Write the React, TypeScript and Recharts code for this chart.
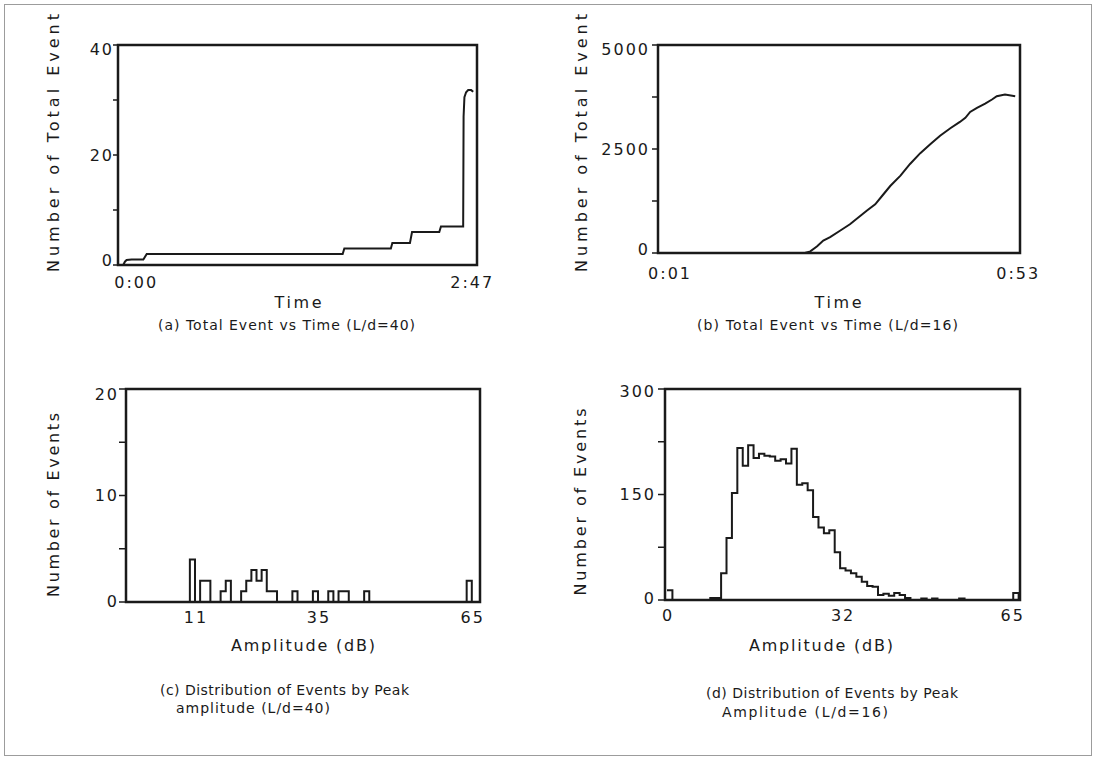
import { LineChart, Line, XAxis, YAxis, ReferenceArea } from 'recharts';

const FONT = '"DejaVu Sans", Verdana, sans-serif';
const INK = '#1a1a1a';
const LS = 2;

// (a) Total event vs time, L/d=40 (time in seconds)
const timeA = [0, 0.8, 1.6, 4, 9.6, 11.2, 104.7, 105.5, 127.7, 128.4, 136.8, 137.8, 150.8, 151.6, 162.2, 162.4, 162.8, 163.6, 164.6, 166, 167];
const totalA = [0, 0.6, 0.9, 1, 1, 2, 2, 3, 3, 4, 4, 6, 6, 7, 7, 27, 30.5, 31.4, 31.8, 31.8, 31.5];
const xTicksA = [0, 167];
const xLabelsA = ['0:00', '2:47'];
const yTicksA = [0, 10, 20, 30, 40];
const yLabelsA = ['0', '', '20', '', '40'];

// (b) Total event vs time, L/d=16
const timeB = [1, 22.2, 23.0, 24.0, 24.9, 25.9, 27.4, 28.8, 30.3, 31.3, 32.5, 33.5, 34.7, 36.2, 37.6, 39.1, 40.6, 42.0, 43.5, 44.9, 45.7, 46.4, 47.4, 48.6, 49.6, 50.3, 51.5, 53];
const totalB = [0, 0, 40, 160, 300, 380, 540, 690, 890, 1020, 1170, 1370, 1610, 1860, 2140, 2400, 2620, 2820, 3000, 3150, 3250, 3390, 3490, 3590, 3690, 3770, 3810, 3770];
const xTicksB = [1, 53];
const xLabelsB = ['0:01', '0:53'];
const yTicksB = [0, 1250, 2500, 3750, 5000];
const yLabelsB = ['0', '', '2500', '', '5000'];

// (c) events per 1 dB amplitude bin, L/d=40 (bins 0..65)
const countsC = [
  0, 0, 0, 0, 0, 0, 0, 0, 0, 0,
  4, 0, 2, 2, 0, 0, 1, 2, 0, 0,
  1, 2, 3, 2, 3, 1, 1, 0, 0, 0,
  1, 0, 0, 0, 1, 0, 0, 1, 0, 1,
  1, 0, 0, 0, 1, 0, 0, 0, 0, 0,
  0, 0, 0, 0, 0, 0, 0, 0, 0, 0,
  0, 0, 0, 0, 2, 0,
];
const xTicksC = [11, 35, 65];
const yTicksC = [0, 5, 10, 15, 20];
const yLabelsC = ['0', '', '10', '', '20'];

// (d) events per 1 dB amplitude bin, L/d=16 (bins 0..65)
const countsD = [
  14, 0, 0, 0, 0, 0, 0, 0, 3, 3,
  38, 88, 152, 216, 191, 220, 202, 208, 205, 204,
  198, 200, 194, 215, 164, 166, 156, 118, 103, 95,
  99, 68, 45, 42, 38, 33, 26, 20, 19, 7,
  9, 6, 10, 7, 3, 0, 0, 2, 0, 2,
  0, 0, 0, 0, 2, 0, 0, 0, 0, 0,
  0, 0, 0, 0, 10, 0,
];
const xTicksD = [0, 32, 65];
const yTicksD = [0, 75, 150, 225, 300];
const yLabelsD = ['0', '', '150', '', '300'];

const binsC = countsC.map((_, i) => i);
const binsD = countsD.map((_, i) => i);

const Y_W = 70;
const X_H = 40;
const R_PAD = 34;

const txt = { fontFamily: FONT, fontSize: 16, fill: INK, letterSpacing: LS };

interface Box { left: number; top: number; right: number; bottom: number }

interface PanelProps {
  xs: number[];
  ys: number[];
  box: Box;
  xDomain: [number, number];
  xTicks: number[];
  xLabels: string[];
  xShift: number[];
  xGap: number;
  yDomain: [number, number];
  yTicks: number[];
  yLabels: string[];
  yShift: number[];
  tickLen: number;
  tickGap: number;
  step?: boolean;
}

function Panel(p: PanelProps) {
  const data = p.xs.map((x, i) => ({ x, y: p.ys[i] }));
  const w = p.box.right - p.box.left + Y_W + R_PAD;
  const h = p.box.bottom - p.box.top + 10 + X_H;

  const xTick = (t: any) => {
    const i = p.xTicks.indexOf(t.payload.value);
    return (
      <text x={t.x + p.xShift[i] + LS / 2} y={t.y} dy="0.36em" textAnchor="middle" style={txt}>
        {p.xLabels[i]}
      </text>
    );
  };
  const yTick = (t: any) => {
    const i = p.yTicks.indexOf(t.payload.value);
    if (!p.yLabels[i]) return <g />;
    return (
      <text x={t.x + LS} y={t.y + p.yShift[i]} dy="0.36em" textAnchor="end" style={txt}>
        {p.yLabels[i]}
      </text>
    );
  };

  return (
    <div style={{ position: 'absolute', left: p.box.left - Y_W, top: p.box.top - 10 }}>
      <LineChart width={w} height={h} data={data} margin={{ top: 10, right: R_PAD, bottom: 0, left: 0 }}>
        <XAxis
          type="number"
          dataKey="x"
          domain={p.xDomain}
          ticks={p.xTicks}
          interval={0}
          allowDataOverflow
          height={X_H}
          axisLine={false}
          tickLine={false}
          tickSize={0}
          tickMargin={p.xGap}
          tick={xTick}
        />
        <YAxis
          type="number"
          domain={p.yDomain}
          ticks={p.yTicks}
          interval={0}
          allowDataOverflow
          width={Y_W}
          axisLine={false}
          tickLine={{ stroke: INK, strokeWidth: 1.5 }}
          tickSize={p.tickLen}
          tickMargin={p.tickGap}
          tick={yTick}
        />
        <ReferenceArea
          x1={p.xDomain[0]}
          x2={p.xDomain[1]}
          y1={p.yDomain[0]}
          y2={p.yDomain[1]}
          fill="none"
          stroke={INK}
          strokeWidth={2.5}
          ifOverflow="visible"
        />
        <Line
          dataKey="y"
          type={p.step ? 'stepAfter' : 'linear'}
          stroke={INK}
          strokeWidth={2}
          dot={false}
          isAnimationActive={false}
        />
      </LineChart>
    </div>
  );
}

export default function App() {
  return (
    <div style={{ position: 'absolute', left: 0, top: 0, width: 1096, height: 760, background: '#fff', overflow: 'hidden' }}>
      <Panel
        xs={timeA}
        ys={totalA}
        box={{ left: 118, top: 45, right: 477, bottom: 265 }}
        xDomain={[-2.5, 168.8]}
        xTicks={xTicksA}
        xLabels={xLabelsA}
        xShift={[12, -2]}
        xGap={17}
        yDomain={[0, 40]}
        yTicks={yTicksA}
        yLabels={yLabelsA}
        yShift={[-5, 0, 0, 0, 4]}
        tickLen={5}
        tickGap={1}
      />
      <Panel
        xs={timeB}
        ys={totalB}
        box={{ left: 658, top: 45, right: 1020, bottom: 253 }}
        xDomain={[0.7, 53.7]}
        xTicks={xTicksB}
        xLabels={xLabelsB}
        xShift={[9, 2]}
        xGap={20}
        yDomain={[0, 5000]}
        yTicks={yTicksB}
        yLabels={yLabelsB}
        yShift={[-4, 0, 0, 0, 4]}
        tickLen={6}
        tickGap={4}
      />
      <Panel
        xs={binsC}
        ys={countsC}
        box={{ left: 126, top: 389, right: 480, bottom: 602 }}
        xDomain={[-2.46, 66.6]}
        xTicks={xTicksC}
        xLabels={xTicksC.map(String)}
        xShift={[0, 0, 0]}
        xGap={15}
        yDomain={[0, 20]}
        yTicks={yTicksC}
        yLabels={yLabelsC}
        yShift={[-1, 0, 0, 0, 5]}
        tickLen={7}
        tickGap={2}
        step
      />
      <Panel
        xs={binsD}
        ys={countsD}
        box={{ left: 665, top: 389, right: 1020, bottom: 600 }}
        xDomain={[-0.37, 65.25]}
        xTicks={xTicksD}
        xLabels={xTicksD.map(String)}
        xShift={[0, 2, -7]}
        xGap={15}
        yDomain={[0, 300]}
        yTicks={yTicksD}
        yLabels={yLabelsD}
        yShift={[-2, 0, 0, 0, 2]}
        tickLen={7}
        tickGap={4}
        step
      />

      <svg
        width={1096}
        height={760}
        style={{ position: 'absolute', left: 0, top: 0, pointerEvents: 'none' }}
        fontFamily={FONT}
        fontSize={16}
        fill={INK}
      >
        <rect x={4.5} y={4.5} width={1087} height={751} fill="none" stroke="#9c9c9c" strokeWidth={1} />

        {/* axis titles */}
        <text transform="translate(59 143) rotate(-90)" textAnchor="middle" textLength={258} lengthAdjust="spacing">
          Number of Total Event
        </text>
        <text transform="translate(587 143) rotate(-90)" textAnchor="middle" textLength={258} lengthAdjust="spacing">
          Number of Total Event
        </text>
        <text transform="translate(59 505) rotate(-90)" textAnchor="middle" textLength={184} lengthAdjust="spacing">
          Number of Events
        </text>
        <text transform="translate(586 502) rotate(-90)" textAnchor="middle" textLength={187} lengthAdjust="spacing">
          Number of Events
        </text>
        <text x={298} y={308} textAnchor="middle" textLength={47} lengthAdjust="spacing">Time</text>
        <text x={838} y={308} textAnchor="middle" textLength={47} lengthAdjust="spacing">Time</text>
        <text x={303} y={651} textAnchor="middle" textLength={144} lengthAdjust="spacing">Amplitude (dB)</text>
        <text x={821} y={651} textAnchor="middle" textLength={144} lengthAdjust="spacing">Amplitude (dB)</text>

        {/* captions */}
        <g fontSize={14}>
          <text x={158} y={330} textLength={257} lengthAdjust="spacing">(a) Total Event vs Time (L/d=40)</text>
          <text x={697} y={330} textLength={261} lengthAdjust="spacing">(b) Total Event vs Time (L/d=16)</text>
          <text x={160} y={695} textLength={249} lengthAdjust="spacing">(c) Distribution of Events by Peak</text>
          <text x={176} y={713} textLength={154} lengthAdjust="spacing">amplitude (L/d=40)</text>
          <text x={706} y={698} textLength={252} lengthAdjust="spacing">(d) Distribution of Events by Peak</text>
          <text x={722} y={717} textLength={166} lengthAdjust="spacing">Amplitude (L/d=16)</text>
        </g>
      </svg>
    </div>
  );
}
